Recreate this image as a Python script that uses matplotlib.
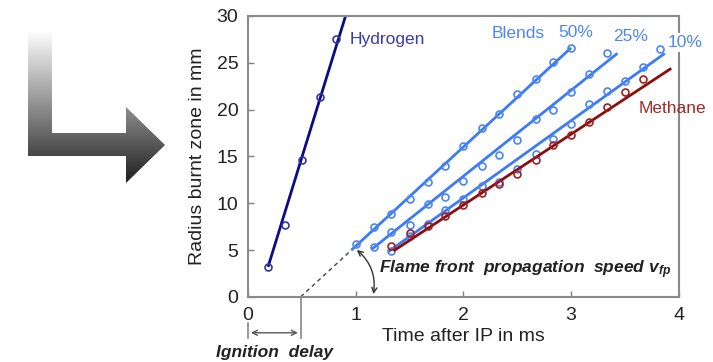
import numpy as np
import matplotlib
matplotlib.use('Agg')
import matplotlib.pyplot as plt
from matplotlib.patches import Polygon, FancyArrowPatch

plt.rcParams['font.family'] = 'Liberation Sans'
plt.rcParams['mathtext.fontset'] = 'custom'
plt.rcParams['mathtext.it'] = 'Liberation Sans:italic:bold'
plt.rcParams['mathtext.rm'] = 'Liberation Sans:bold'

# measured points (time after IP in ms, radius in mm)
t_h2 = [0.185, 0.34, 0.50, 0.67, 0.82]
r_h2 = [3.2, 7.7, 14.6, 21.3, 27.5]

t_50 = [1.0, 1.17, 1.33, 1.5, 1.67, 1.83, 2.0, 2.17, 2.33, 2.5, 2.67, 2.83, 3.0]
r_50 = [5.6, 7.5, 8.9, 10.4, 12.3, 14.0, 16.1, 18.0, 19.5, 21.7, 23.3, 25.1, 26.6]

t_25 = [1.17, 1.33, 1.5, 1.67, 1.83, 2.0, 2.17, 2.33, 2.5, 2.67, 2.83, 3.0, 3.17, 3.33]
r_25 = [5.3, 6.9, 7.7, 9.9, 10.7, 12.4, 14.0, 15.2, 16.8, 19.0, 20.0, 21.9, 23.8, 26.0]

t_10 = [1.33, 1.5, 1.67, 1.83, 2.0, 2.17, 2.33, 2.5, 2.67, 2.83, 3.0, 3.17, 3.33, 3.5, 3.67, 3.83]
r_10 = [4.9, 6.5, 7.8, 9.3, 10.4, 11.8, 12.3, 13.7, 15.3, 16.9, 18.5, 20.6, 22.0, 23.0, 24.5, 26.5]

t_ch4 = [1.33, 1.5, 1.67, 1.83, 2.0, 2.17, 2.33, 2.5, 2.67, 2.83, 3.0, 3.17, 3.33, 3.5, 3.67]
r_ch4 = [5.4, 6.8, 7.6, 8.6, 9.8, 11.1, 12.1, 13.1, 14.6, 16.2, 17.3, 18.7, 20.3, 21.9, 23.3]

# fitted lines: (t start, t end), (r start, r end)
fit_h2 = ([0.185, 0.905], [3.2, 30.0])
fit_50 = ([0.96, 3.0], [5.0, 26.6])
fit_25 = ([1.15, 3.43], [5.1, 26.0])
fit_10 = ([1.30, 3.87], [4.8, 26.0])
fit_ch4 = ([1.35, 3.93], [4.9, 24.4])

c_h2 = '#0b0b88'
c_bl = '#3b7bf8'
c_ch4 = '#8e0c0c'

fig = plt.figure(figsize=(7.13, 3.62), dpi=100)

# gray gradient L-arrow on the left
bg = fig.add_axes([0, 0, 1, 1], zorder=-1)
bg.set_xlim(0, 713)
bg.set_ylim(362, 0)
bg.axis('off')
yy = np.linspace(25, 190, 300)
g = np.clip(1 - (yy - 30) / 153 * 0.88, 0.08, 1.0).reshape(-1, 1)
img = np.dstack([g, g, g])
im = bg.imshow(img, extent=[20, 170, 190, 25], aspect='auto', interpolation='bilinear')
shape = Polygon([(28, 30), (52, 30), (52, 133), (126, 133), (126, 107),
                 (165, 145), (126, 183), (126, 156), (28, 156)],
                closed=True, facecolor='none', edgecolor='none')
bg.add_patch(shape)
im.set_clip_path(shape)
bg.set_xlim(0, 713)
bg.set_ylim(362, 0)

ax = fig.add_axes([0.348, 0.180, 0.604, 0.776])

ax.plot(*fit_h2, color=c_h2, lw=2.0, solid_capstyle='butt')
ax.plot(t_h2, r_h2, 'o', ms=5, mfc='none', mec='#3535a5', mew=1.2)

for fit, t, r in [(fit_50, t_50, r_50), (fit_25, t_25, r_25), (fit_10, t_10, r_10)]:
    ax.plot(*fit, color=c_bl, lw=2.0, solid_capstyle='butt')
    ax.plot(t, r, 'o', ms=5, mfc='none', mec='#4a84f8', mew=1.2)

ax.plot(*fit_ch4, color=c_ch4, lw=2.0, solid_capstyle='butt')
ax.plot(t_ch4, r_ch4, 'o', ms=5, mfc='none', mec='#a02020', mew=1.2)

# ignition delay from extrapolated 50% line
slope50 = (fit_50[1][1] - fit_50[1][0]) / (fit_50[0][1] - fit_50[0][0])
t_ign = fit_50[0][0] - fit_50[1][0] / slope50
ax.plot([t_ign, fit_50[0][0]], [0, fit_50[1][0]], ls=(0, (3, 2.5)), color='#444444', lw=1.0)

ax.set_xlim(0, 4)
ax.set_ylim(0, 30)
ax.set_xticks([0, 1, 2, 3, 4])
ax.set_yticks([0, 5, 10, 15, 20, 25, 30])
ax.tick_params(direction='in', length=4, width=1, colors='#808080',
               labelcolor='#222222', labelsize=14, pad=7)
for s in ax.spines.values():
    s.set_color('#8a8a8a')
    s.set_linewidth(1.5)
ax.set_xlabel('Time after IP in ms', fontsize=14, color='#222222', labelpad=3)
ax.set_ylabel('Radius burnt zone in mm', fontsize=14, color='#222222', labelpad=8)

ax.text(0.94, 27.5, 'Hydrogen', color='#3a3aa8', fontsize=12.5, va='center')
ax.text(2.26, 28.1, 'Blends', color='#4f85f2', fontsize=12.5, va='center')
ax.text(2.88, 28.2, '50%', color='#4f85f2', fontsize=12.5, va='center')
ax.text(3.39, 27.8, '25%', color='#4f85f2', fontsize=12.5, va='center')
ax.text(3.9, 27.2, '10%', color='#4f85f2', fontsize=12.5, va='center', clip_on=False,
        bbox=dict(facecolor='white', edgecolor='none', pad=1.5))
ax.text(3.63, 20.1, 'Methane', color='#a02a2a', fontsize=12.5, va='center', clip_on=False)

ax.text(1.22, 2.9, r'Flame front  propagation  speed $v_{fp}$', fontsize=12.5,
        fontweight='bold', style='italic', color='#222222', va='center')
ax.add_patch(FancyArrowPatch((0.99, 5.2), (1.16, 0.0), arrowstyle='<->',
                             connectionstyle='arc3,rad=-0.3', mutation_scale=9,
                             color='#333333', lw=1.0, clip_on=False))

# ignition delay marker below the axis
ax.plot([t_ign, t_ign], [0, -4.4], color='#888888', lw=1.2, clip_on=False)
ax.plot([0, 0], [-2.8, -4.4], color='#888888', lw=1.2, clip_on=False)
ax.add_patch(FancyArrowPatch((0, -3.84), (t_ign, -3.84), arrowstyle='<->',
                             mutation_scale=9, color='#555555', lw=1.0, clip_on=False))
ax.text(t_ign / 2, -5.9, 'Ignition  delay', fontsize=12.5, fontweight='bold',
        style='italic', color='#222222', ha='center', va='center', clip_on=False)

fig.savefig('out.png', dpi=100)
